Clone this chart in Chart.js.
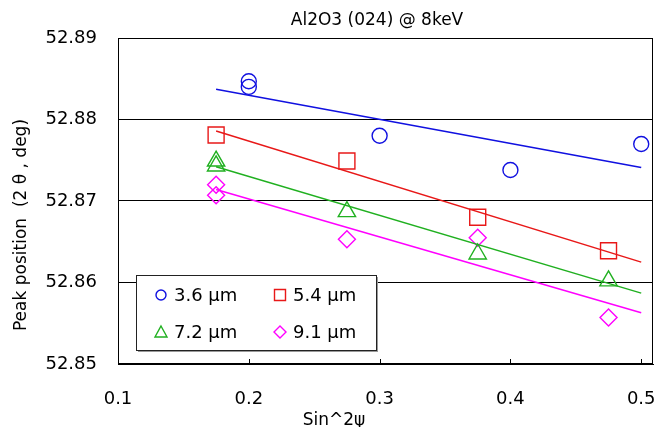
<!DOCTYPE html>
<html lang="ja">
<head>
  <meta charset="UTF-8" />
  <title>Al2O3 (024) @ 8keV</title>
  <script src="https://cdn.jsdelivr.net/npm/chart.js"></script>
  <style>
    html, body {
      margin: 0;
      padding: 0;
      background: #fff;
    }

    #wrap {
      width: 657px;
      height: 427px;
    }
  </style>
</head>
<body>
  <div id="wrap">
    <canvas id="myChart" width="657" height="427"></canvas>
  </div>

  <script>
    // values
    const xTickValues = [0.1, 0.2, 0.3, 0.4, 0.5];

    const x36 = [0.2, 0.2, 0.3, 0.4, 0.5];
    const y36 = [52.8847, 52.8840, 52.8780, 52.8738, 52.8770];

    const x54 = [0.175, 0.275, 0.375, 0.475];
    const y54 = [52.8781, 52.8749, 52.8680, 52.8639];

    const x72 = [0.175, 0.175, 0.275, 0.375, 0.475];
    const y72 = [52.8749, 52.8743, 52.8687, 52.8635, 52.8602];

    const x91 = [0.175, 0.175, 0.275, 0.375, 0.475];
    const y91 = [52.8720, 52.8707, 52.8653, 52.8655, 52.8557];

    // trend lines (ends as drawn)
    const trendX = [0.175, 0.5];
    const trend36 = [52.8837, 52.8741];
    const trend54 = [52.8786, 52.8625];
    const trend72 = [52.8742, 52.8587];
    const trend91 = [52.8714, 52.8563];

    const seriesNames = ['3.6 μm', '5.4 μm', '7.2 μm', '9.1 μm'];

    const BLUE = '#1010e0';
    const RED = '#e81818';
    const GREEN = '#20b020';
    const PINK = '#ff00ff';
    const FONT = "'DejaVu Sans', sans-serif";

    const pts = (xs, ys) => xs.map((x, i) => ({ x: x, y: ys[i] }));

    function markers(label, xs, ys, color, style, r) {
      return {
        type: 'scatter',
        label: label,
        data: pts(xs, ys),
        showLine: false,
        pointStyle: style,
        pointRadius: r,
        pointHoverRadius: r,
        pointBorderColor: color,
        pointBackgroundColor: 'rgba(0,0,0,0)',
        pointBorderWidth: 1.4
      };
    }

    function trend(ys, color) {
      return {
        type: 'line',
        label: '',
        data: pts(trendX, ys),
        borderColor: color,
        borderWidth: 1.5,
        pointRadius: 0,
        fill: false,
        tension: 0
      };
    }

    // frame, inner x ticks, titles and the boxed legend
    const decor = {
      id: 'decor',
      afterDatasetsDraw(chart) {
        const { ctx, chartArea: a, scales } = chart;
        ctx.save();
        ctx.strokeStyle = '#000';
        ctx.lineWidth = 1;
        ctx.strokeRect(a.left + 0.5, a.top + 0.5, a.right - a.left - 1, a.bottom - a.top - 1);

        ctx.beginPath();
        xTickValues.forEach(v => {
          const px = Math.round(scales.x.getPixelForValue(v)) + 0.5;
          ctx.moveTo(px, a.bottom);
          ctx.lineTo(px, a.bottom - 5);
        });
        ctx.stroke();

        // legend box
        const bx = 136, by = 275, bw = 240, bh = 75;
        ctx.fillStyle = '#999';
        ctx.fillRect(bx + 2, by + 2, bw, bh);
        ctx.fillStyle = '#fff';
        ctx.fillRect(bx, by, bw, bh);
        ctx.strokeStyle = '#222';
        ctx.strokeRect(bx + 0.5, by + 0.5, bw, bh);

        const items = [
          { style: 'circle', color: BLUE, x: 161, y: 295 },
          { style: 'rect', color: RED, x: 280, y: 295 },
          { style: 'triangle', color: GREEN, x: 161, y: 332 },
          { style: 'rectRot', color: PINK, x: 280, y: 332 }
        ];
        ctx.font = '18px ' + FONT;
        ctx.textAlign = 'left';
        ctx.textBaseline = 'middle';
        items.forEach((it, i) => {
          ctx.strokeStyle = it.color;
          ctx.lineWidth = 1.4;
          ctx.beginPath();
          if (it.style === 'circle') {
            ctx.arc(it.x, it.y, 5, 0, Math.PI * 2);
          } else if (it.style === 'rect') {
            ctx.rect(it.x - 5.5, it.y - 5.5, 11, 11);
          } else if (it.style === 'triangle') {
            ctx.moveTo(it.x, it.y - 6);
            ctx.lineTo(it.x + 6, it.y + 5);
            ctx.lineTo(it.x - 6, it.y + 5);
            ctx.closePath();
          } else {
            ctx.moveTo(it.x, it.y - 6);
            ctx.lineTo(it.x + 6, it.y);
            ctx.lineTo(it.x, it.y + 6);
            ctx.lineTo(it.x - 6, it.y);
            ctx.closePath();
          }
          ctx.stroke();
          ctx.fillStyle = '#000';
          ctx.fillText(seriesNames[i], it.x + 13, it.y + 1);
        });

        // titles
        ctx.fillStyle = '#000';
        ctx.textAlign = 'center';
        ctx.textBaseline = 'alphabetic';
        ctx.font = '17px ' + FONT;
        ctx.fillText('Al2O3 (024) @ 8keV', 377, 25);
        ctx.fillText('Sin^2ψ', 334, 425);

        ctx.translate(22, 225);
        ctx.rotate(-Math.PI / 2);
        ctx.textBaseline = 'middle';
        ctx.fillText('Peak position  (2 θ , deg)', 0, 0);
        ctx.restore();
      }
    };

    const ctx = document.getElementById('myChart').getContext('2d');

    const myChart = new Chart(ctx, {
      type: 'scatter',
      data: {
        datasets: [
          trend(trend36, BLUE),
          trend(trend54, RED),
          trend(trend72, GREEN),
          trend(trend91, PINK),
          markers(seriesNames[0], x36, y36, BLUE, 'circle', 7.5),
          markers(seriesNames[1], x54, y54, RED, 'rect', 11.3),
          markers(seriesNames[2], x72, y72, GREEN, 'triangle', 10),
          markers(seriesNames[3], x91, y91, PINK, 'rectRot', 8.5)
        ]
      },
      options: {
        responsive: false,
        animation: false,
        layout: {
          autoPadding: false,
          padding: { top: 38, right: 4, left: 0, bottom: 0 }
        },
        scales: {
          x: {
            type: 'linear',
            min: 0.1,
            max: 0.509,
            afterBuildTicks: s => { s.ticks = xTickValues.map(v => ({ value: v })); },
            afterFit: s => {
              s.height = 63;
              s.paddingLeft = 0;
              s.paddingRight = 0;
            },
            grid: { display: false },
            border: { display: true, color: '#000', width: 1 },
            ticks: {
              padding: 17,
              color: '#000',
              font: { family: FONT, size: 18 },
              callback: v => v.toFixed(1)
            }
          },
          y: {
            min: 52.85,
            max: 52.89,
            afterFit: s => {
              s.width = 118;
              s.paddingTop = 0;
              s.paddingBottom = 0;
            },
            grid: { color: '#000', lineWidth: 1, drawTicks: false },
            border: { display: true, color: '#000', width: 1 },
            ticks: {
              stepSize: 0.01,
              padding: 21,
              color: '#000',
              font: { family: FONT, size: 18 },
              callback: v => v.toFixed(2)
            }
          }
        },
        plugins: {
          legend: { display: false },
          title: { display: false },
          tooltip: { enabled: false }
        }
      },
      plugins: [decor]
    });
  </script>
</body>
</html>
